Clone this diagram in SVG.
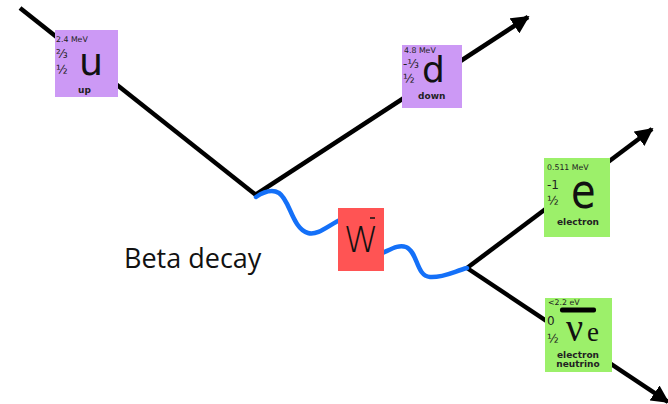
<svg xmlns="http://www.w3.org/2000/svg" width="668" height="404" viewBox="0 0 668 404">
  <style>
    .fermion { fill: none; stroke: #000; stroke-width: 4.5; }
    .boson { fill: none; stroke: #1470f8; stroke-width: 4.5; stroke-linecap: round; }
    .quark { fill: #cc99f5; }
    .lepton { fill: #9cf06a; }
    .gauge { fill: #ff5454; }
    .sm { font-family: "DejaVu Sans", sans-serif; font-size: 7.8px; fill: #222; }
    .frac { font-family: "DejaVu Sans", sans-serif; font-size: 12px; fill: #222; }
    .big { font-family: "DejaVu Sans", sans-serif; fill: #111; }
    .name { font-family: "DejaVu Sans", sans-serif; font-size: 9px; font-weight: bold; fill: #222; }
    .label { font-family: "Open Sans", "Liberation Sans", sans-serif; font-size: 27px; fill: #111; }
  </style>
  <defs>
    <marker id="arrow" viewBox="0 0 10 10" refX="9" refY="5" markerWidth="4" markerHeight="4" orient="auto" markerUnits="strokeWidth">
      <path d="M0,0 L10,5 L0,10 Z" fill="#000"/>
    </marker>
  </defs>

  <!-- fermion lines and W propagator -->
  <g id="connectors">
    <line class="fermion" x1="20" y1="8" x2="256" y2="195"/>
    <line class="fermion" x1="255" y1="195" x2="528" y2="17" marker-end="url(#arrow)"/>
    <line class="fermion" x1="467" y1="268" x2="652" y2="129" marker-end="url(#arrow)"/>
    <line class="fermion" x1="467" y1="268" x2="668" y2="402" marker-end="url(#arrow)"/>
    <path class="boson" d="M256,197 C265,191 272,189 279,193 C290,200 292,228 308,233 C318,236 330,224 342,219"/>
    <path class="boson" d="M380,254 C390,250 398,244 406,247 C418,252 416,276 430,277 C443,278 455,271 467,268"/>
  </g>

  <g id="up">
    <rect class="quark" x="55" y="30" width="63" height="67"/>
    <text class="sm" x="56" y="42">2.4 MeV</text>
    <text class="frac" x="56" y="58">⅔</text>
    <text class="frac" x="56" y="74">½</text>
    <text class="big" x="79" y="75" font-size="38">u</text>
    <text class="name" x="78" y="93" font-size="10">up</text>
  </g>

  <g id="down">
    <rect class="quark" x="402" y="45" width="60" height="63"/>
    <text class="sm" x="404" y="53">4.8 MeV</text>
    <text class="frac" x="403" y="68">-⅓</text>
    <text class="frac" x="403" y="83">½</text>
    <text class="big" x="422" y="82" font-size="36">d</text>
    <text class="name" x="418" y="99" font-size="9.5">down</text>
  </g>

  <g id="W">
    <rect class="gauge" x="338" y="208" width="46" height="63"/>
    <text class="big" x="361" y="252" font-size="35" text-anchor="middle" font-family="Open Sans, sans-serif" font-weight="300">W</text>
    <line x1="370" y1="218" x2="375" y2="218" stroke="#111" stroke-width="1.5"/>
  </g>

  <g id="electron">
    <rect class="lepton" x="544" y="158" width="66" height="79"/>
    <text class="sm" x="547" y="170" font-size="8">0.511 MeV</text>
    <text class="frac" x="547" y="189">-1</text>
    <text class="frac" x="547" y="205">½</text>
    <text class="big" x="0" y="0" font-size="40" transform="translate(571,208) scale(1,1.2)">e</text>
    <text class="name" x="578" y="225" text-anchor="middle">electron</text>
  </g>

  <g id="neutrino">
    <rect class="lepton" x="545" y="298" width="67" height="74"/>
    <text class="sm" x="548" y="305">&lt;2.2 eV</text>
    <rect x="560" y="307.5" width="36" height="5" rx="2" fill="#000"/>
    <text class="frac" x="547" y="325">0</text>
    <text class="frac" x="547" y="343">½</text>
    <text x="0" y="0" font-family="Liberation Serif, serif" font-size="38" fill="#111" transform="translate(566,341) scale(1,1.1)">ν</text>
    <text x="587" y="341" font-family="Liberation Serif, serif" font-size="27" fill="#111">e</text>
    <text class="name" x="578" y="358" text-anchor="middle">electron</text>
    <text class="name" x="578" y="367" text-anchor="middle">neutrino</text>
  </g>

  <text class="label" x="124" y="268">Beta decay</text>
</svg>
